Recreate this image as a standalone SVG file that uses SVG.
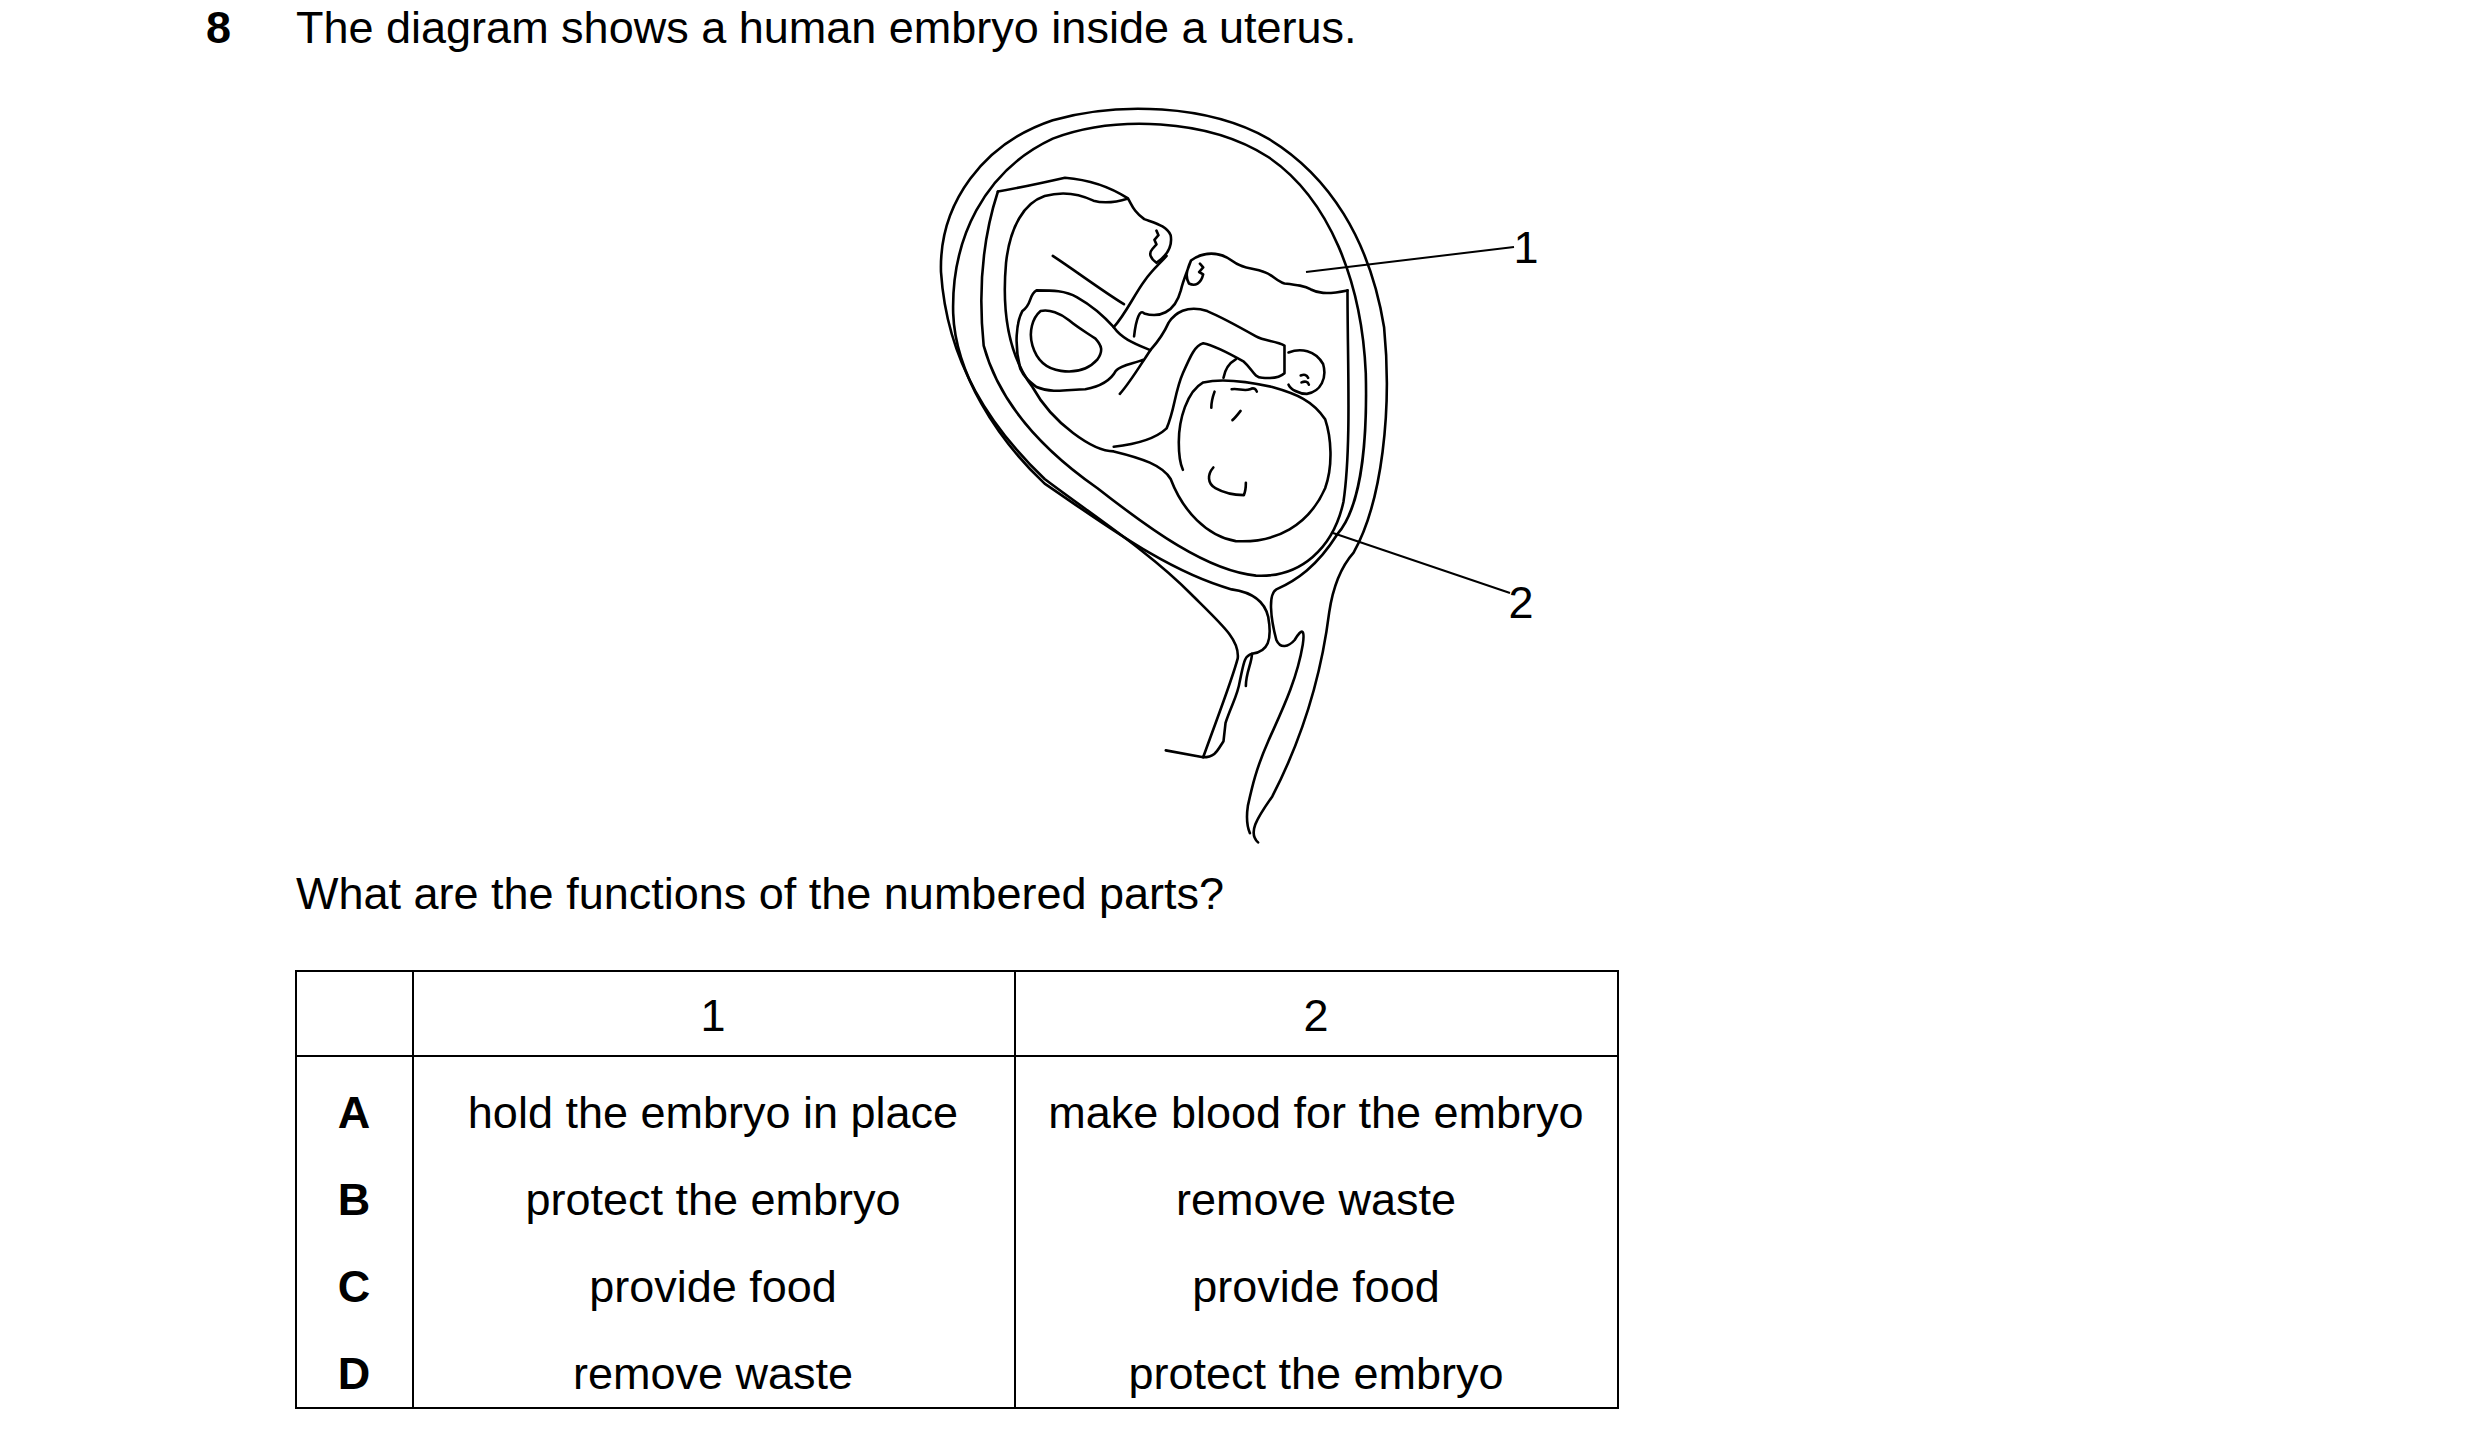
<svg xmlns="http://www.w3.org/2000/svg" width="2480" height="1448" viewBox="0 0 2480 1448">
<style>
text{font-family:"Liberation Sans",Arial,sans-serif;font-size:45px;fill:#000}
.b{font-weight:bold}
.c{text-anchor:middle}
.d path{fill:none;stroke:#000;stroke-width:2.6;stroke-linecap:round;stroke-linejoin:round;vector-effect:non-scaling-stroke}
.t{fill:none;stroke:#000;stroke-width:2}
</style>
<rect width="2480" height="1448" fill="#fff"/>
<text x="206" y="43" class="b">8</text>
<text x="296" y="43">The diagram shows a human embryo inside a uterus.</text>
<g id="uterus" class="d" transform="translate(922.7,88) scale(0.4065,0.46)">
<path d="M598,1440 L690,1455 C720,1380 760,1290 775,1240 C780,1200 740,1170 660,1100 C560,1010 420,930 300,850 C170,740 60,600 45,400 C40,250 150,120 320,70 C480,30 700,35 850,110 C1000,190 1100,330 1135,520 C1155,700 1130,900 1060,1010 C1030,1040 1010,1080 1000,1140 C980,1280 930,1420 860,1540 C820,1590 800,1620 825,1640"/>
<path d="M690,1455 C720,1455 725,1440 740,1420 L745,1380 C760,1340 775,1320 780,1290 C790,1250 790,1235 810,1230 C850,1225 860,1200 850,1150 C840,1110 800,1095 760,1090 C600,1050 450,950 300,860 C180,760 80,620 75,490 C70,330 150,180 320,110 C470,60 700,65 850,150 C1000,240 1080,420 1090,620 C1095,800 1070,920 1020,970 C970,1040 920,1070 870,1090 C850,1100 855,1150 870,1200 C880,1220 900,1215 915,1200 C935,1170 940,1180 935,1210 C920,1290 880,1360 850,1420 C820,1480 810,1520 800,1560 C795,1590 800,1610 805,1620"/>
<path d="M185,225 C150,320 135,430 150,560 C190,690 300,790 430,870 C560,960 700,1050 820,1060 C930,1065 1010,1000 1035,900 C1055,780 1045,600 1045,440"/>
<path d="M185,225 C250,215 300,205 350,195 C420,200 470,220 505,240 C515,255 520,270 545,285 C575,295 600,300 610,320 C615,345 600,365 575,380 C560,370 555,360 565,350 L575,340 L570,330 L580,320 L575,310 M505,240 C470,250 440,250 420,245 C380,228 340,225 300,235 C250,250 215,300 205,380 C195,480 210,580 270,650 C320,730 420,790 470,790 C540,805 590,820 610,850 C640,920 700,975 770,985 C870,990 950,950 990,870 C1010,820 1005,760 990,720 C960,680 920,665 860,650 C800,638 740,630 690,640 C650,660 630,720 630,770 C630,800 635,820 640,830"/>
<path d="M320,365 C380,400 440,440 495,470 M470,520 C500,490 520,450 545,420 C565,395 580,385 600,365 M520,540 C525,500 535,480 545,490 C580,500 620,490 635,440 C640,420 650,400 660,375 C690,355 730,355 760,375 C790,395 810,390 840,400 C860,405 870,420 890,425 C920,428 940,430 955,438 C970,445 990,450 1045,440 M660,375 C650,395 645,410 655,425 C670,432 685,425 690,405 L680,400 L690,390 L682,382"/>
<path d="M560,570 C520,555 490,545 470,520 C440,490 410,470 380,455 C350,440 320,440 280,440 C260,450 270,470 245,485 C230,510 225,560 240,610 C250,630 265,640 280,650 C320,665 360,655 400,655 C430,650 460,640 475,615 C490,600 520,600 545,590 M290,485 C270,500 260,530 270,560 C280,590 300,610 340,615 C380,620 410,610 430,590 C445,570 440,560 425,545 C400,530 380,520 360,505 C340,490 310,480 290,485 M560,570 C530,610 510,640 485,665"/>
<path d="M470,780 C520,775 570,765 600,740 C620,700 620,660 640,620 C660,580 670,560 690,555 C720,560 760,580 790,595 C810,610 815,630 835,630 C860,632 880,628 890,620 L890,560 C870,550 840,550 820,540 C780,520 740,500 700,485 C650,470 620,490 605,510 C590,540 570,560 560,570 M900,575 C930,565 965,570 985,600 C995,630 980,660 945,665 C925,665 905,655 900,645 M930,625 C938,622 945,623 948,630 M932,640 C940,637 948,638 950,645 M740,630 C745,605 760,595 770,590"/>
<path d="M715,825 C700,840 700,860 720,870 C740,880 770,885 790,885 C795,875 795,865 795,858 M718,660 C713,672 710,685 710,695 M760,655 C775,652 790,660 805,655 C815,650 820,655 822,660 M782,702 C775,710 768,718 762,722"/>
<path d="M810,1230 C810,1250 795,1270 795,1300"/>
</g>
<g id="labels">
<line x1="1306" y1="272" x2="1514" y2="247" class="t"/>
<line x1="1333" y1="533" x2="1510" y2="593" class="t"/>
<text x="1526" y="263" class="c">1</text>
<text x="1521" y="618" class="c">2</text>
</g>
<text x="296" y="909">What are the functions of the numbered parts?</text>
<g id="table">
<rect x="296" y="971" width="1322" height="437" class="t"/>
<line x1="413" y1="971" x2="413" y2="1408" class="t"/>
<line x1="1015" y1="971" x2="1015" y2="1408" class="t"/>
<line x1="296" y1="1056" x2="1618" y2="1056" class="t"/>
<text x="713" y="1031" class="c">1</text>
<text x="1316" y="1031" class="c">2</text>
<text x="354" y="1128" class="c b">A</text>
<text x="713" y="1128" class="c">hold the embryo in place</text>
<text x="1316" y="1128" class="c">make blood for the embryo</text>
<text x="354" y="1215" class="c b">B</text>
<text x="713" y="1215" class="c">protect the embryo</text>
<text x="1316" y="1215" class="c">remove waste</text>
<text x="354" y="1302" class="c b">C</text>
<text x="713" y="1302" class="c">provide food</text>
<text x="1316" y="1302" class="c">provide food</text>
<text x="354" y="1389" class="c b">D</text>
<text x="713" y="1389" class="c">remove waste</text>
<text x="1316" y="1389" class="c">protect the embryo</text>
</g>
</svg>
